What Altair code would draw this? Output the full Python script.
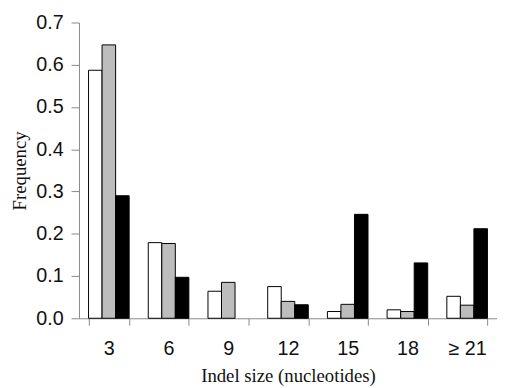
import altair as alt
import pandas as pd

sizes = ["3", "6", "9", "12", "15", "18", "≥ 21"]
series = ["A", "B", "C"]
white_vals = [0.587, 0.179, 0.064, 0.075, 0.016, 0.020, 0.052]
gray_vals = [0.647, 0.177, 0.085, 0.040, 0.033, 0.016, 0.031]
black_vals = [0.290, 0.097, 0.0, 0.032, 0.246, 0.131, 0.212]

rows = []
for i, s in enumerate(sizes):
    for name, vals in zip(series, [white_vals, gray_vals, black_vals]):
        if vals[i] > 0:
            rows.append({"size": s, "series": name, "freq": vals[i]})
df = pd.DataFrame(rows)

chart = alt.Chart(df).mark_bar(stroke="black", strokeWidth=1).encode(
    x=alt.X("size:N", sort=sizes,
            scale=alt.Scale(domain=sizes, paddingInner=0.32, paddingOuter=0.16),
            axis=alt.Axis(title="Indel size (nucleotides)", labelAngle=0,
                          tickBand="extent", labelFontSize=20, labelPadding=14,
                          tickSize=7, titlePadding=8, titleFontSize=19,
                          titleFont="Liberation Serif", titleFontWeight="normal")),
    xOffset=alt.XOffset("series:N", sort=series, scale=alt.Scale(domain=series)),
    y=alt.Y("freq:Q", scale=alt.Scale(domain=[0, 0.7]),
            axis=alt.Axis(title="Frequency", values=[0, 0.1, 0.2, 0.3, 0.4, 0.5, 0.6, 0.7],
                          format=".1f", labelFontSize=20, labelPadding=8, tickSize=8,
                          titlePadding=6, titleFontSize=19, titleFont="Liberation Serif",
                          titleFontWeight="normal", grid=False)),
    color=alt.Color("series:N", sort=series,
                    scale=alt.Scale(domain=series, range=["#ffffff", "#bdbdbd", "#000000"]),
                    legend=None),
).properties(
    width=424, height=300,
    padding={"left": 3, "top": 2, "right": 0, "bottom": 0},
).configure_axis(
    labelFont="Liberation Sans", labelColor="#111111", titleColor="#111111",
    domainColor="#888888", tickColor="#888888",
).configure_view(stroke=None)

chart.save("out.html", embed_options={"renderer": "svg", "actions": False})
